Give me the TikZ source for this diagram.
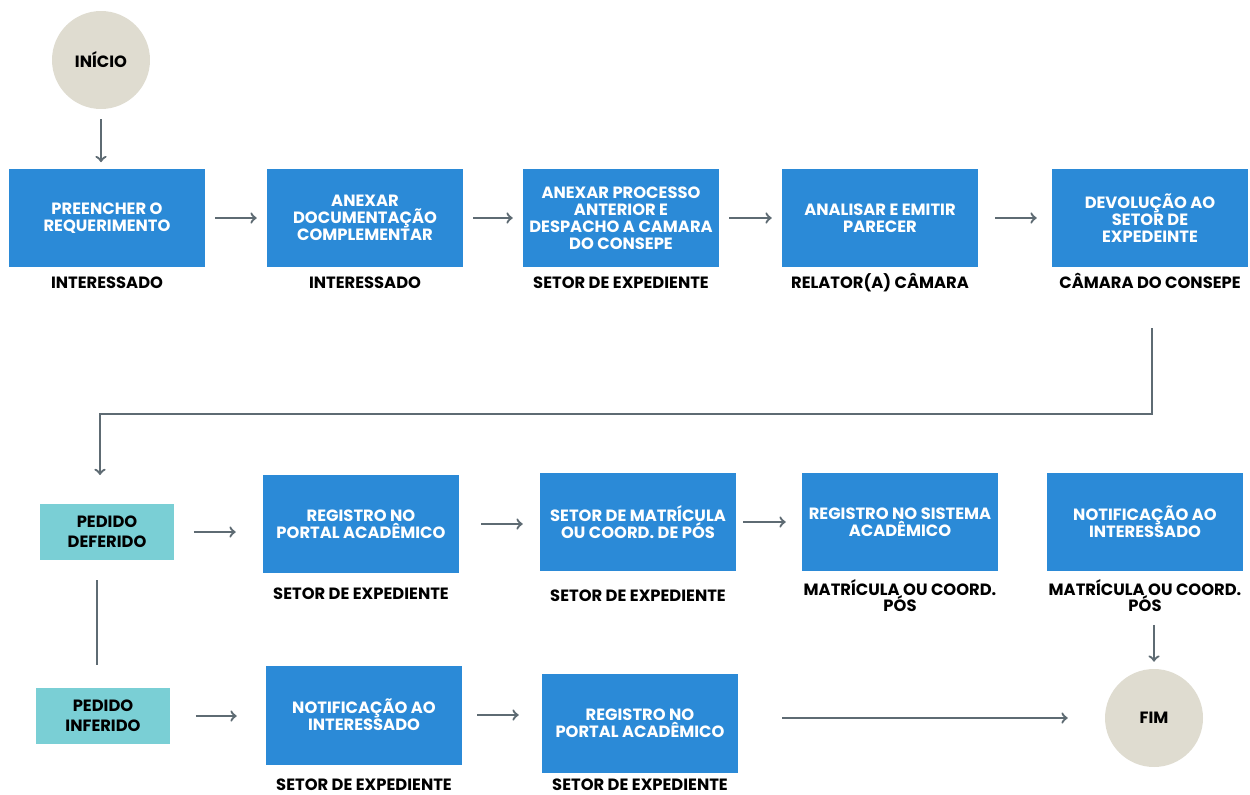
\documentclass[tikz,border=0pt]{standalone}
\usepackage{fontspec}
\setmainfont{Poppins}
\usetikzlibrary{positioning}

\definecolor{taskblue}{RGB}{43,138,215}
\definecolor{decisionteal}{RGB}{122,207,213}
\definecolor{endbeige}{RGB}{223,220,208}
\definecolor{flowgray}{RGB}{94,107,115}

\tikzset{
  task/.style={rectangle, fill=taskblue, minimum width=3.92cm, minimum height=1.98cm,
    text=white, align=center, inner sep=0pt, font=\bfseries\fontsize{9.3}{9.6}\selectfont},
  decision/.style={rectangle, fill=decisionteal, minimum width=2.7cm, minimum height=1.12cm,
    text=black, align=center, inner sep=0pt, font=\bfseries\fontsize{9.3}{11.2}\selectfont},
  terminal/.style={circle, fill=endbeige, minimum size=1.96cm, inner sep=0pt,
    font=\bfseries\fontsize{9.3}{9.3}\selectfont},
  role/.style={align=center, inner sep=0pt, font=\bfseries\fontsize{9.3}{9.3}\selectfont},
  roleline/.style={role, text height=6.5pt, text depth=0.5pt},
  flow/.style={draw=flowgray, line width=1.3pt, ->},
  link/.style={draw=flowgray, line width=1.3pt}
}

\begin{document}
\begin{tikzpicture}[x=0.02cm, y=-0.02cm]
        \useasboundingbox[fill=white] (0,0) rectangle (1250,794);

        \node[terminal] (inicio) at (101,60) {INÍCIO};

        \node[task] (b_1) at (107,218) {PREENCHER O\\REQUERIMENTO};
        \node[task] (b_2) at (365,218) {ANEXAR\\DOCUMENTAÇÃO\\COMPLEMENTAR};
        \node[task] (b_3) at (621,218) {ANEXAR PROCESSO\\ANTERIOR E\\DESPACHO A CAMARA\\DO CONSEPE};
        \node[task] (b_4) at (880,218) {ANALISAR E EMITIR\\PARECER};
        \node[task] (b_5) at (1150,218) {DEVOLUÇÃO AO\\SETOR DE\\EXPEDEINTE};

        \node[roleline] (r_1) [below=5pt of b_1] {INTERESSADO};
        \node[roleline] (r_2) [below=5pt of b_2] {INTERESSADO};
        \node[roleline] (r_3) [below=5pt of b_3] {SETOR DE EXPEDIENTE};
        \node[roleline] (r_4) [below=5pt of b_4] {RELATOR(A) CÂMARA};
        \node[roleline] (r_5) [below=5pt of b_5] {CÂMARA DO CONSEPE};

        \node[decision] (d_1) at (107,532) {PEDIDO\\DEFERIDO};
        \node[task] (c_1) at (361,524) {REGISTRO NO\\PORTAL ACADÊMICO};
        \node[task] (c_2) at (638,522) {SETOR DE MATRÍCULA\\OU COORD. DE PÓS};
        \node[task] (c_3) at (900,522) {REGISTRO NO SISTEMA\\ACADÊMICO};
        \node[task] (c_4) at (1145,522) {NOTIFICAÇÃO AO\\INTERESSADO};

        \node[roleline] (s_1) [below=8pt of c_1] {SETOR DE EXPEDIENTE};
        \node[roleline] (s_2) [below=10pt of c_2] {SETOR DE EXPEDIENTE};
        \node[role] (s_3) [below=4pt of c_3] {MATRÍCULA OU COORD.\\PÓS};
        \node[role] (s_4) [below=4pt of c_4] {MATRÍCULA OU COORD.\\PÓS};

        \node[decision] (d_2) at (103,716) {PEDIDO\\INFERIDO};
        \node[task] (e_1) at (364,715) {NOTIFICAÇÃO AO\\INTERESSADO};
        \node[task] (e_2) at (640,723) {REGISTRO NO\\PORTAL ACADÊMICO};
        \node[terminal] (fim) at (1154,718) {FIM};

        \node[roleline] (t_1) [below=8pt of e_1] {SETOR DE EXPEDIENTE};
        \node[roleline] (t_2) [below=3.5pt of e_2] {SETOR DE EXPEDIENTE};

        %inicio to first task
        \draw[flow, shorten <=0.2cm, shorten >=0.12cm] (inicio.south) -- (inicio.south |- b_1.north);

        %first row, left to right
        \draw[flow, shorten <=0.2cm, shorten >=0.2cm] (b_1) -- (b_2);
        \draw[flow, shorten <=0.2cm, shorten >=0.2cm] (b_2) -- (b_3);
        \draw[flow, shorten <=0.2cm, shorten >=0.2cm] (b_3) -- (b_4);
        \draw[flow, shorten <=0.34cm, shorten >=0.3cm] (b_4) -- (b_5);

        %back down to the decisions
        \coordinate (down_1) at (1152,328);
        \coordinate (down_2) at (100,475);
        \draw[flow] (down_1) -- ++(0,86) -| (down_2);

        %deferido branch
        \draw[flow, shorten <=0.38cm, shorten >=0.54cm] (d_1.east) -- (d_1.east -| c_1.west);
        \draw[flow, shorten <=0.44cm, shorten >=0.34cm] (c_1.east) -- (c_1.east -| c_2.west);
        \draw[flow, shorten <=0.14cm, shorten >=0.32cm] (c_2) -- (c_3);

        %deferido to inferido
        \draw[link, shorten <=0.4cm, shorten >=0.46cm] (d_1.south -| 97,0) -- (d_2.north -| 97,0);

        %inferido branch
        \draw[flow, shorten <=0.5cm, shorten >=0.58cm] (d_2.east) -- (d_2.east -| e_1.west);
        \draw[flow, shorten <=0.3cm, shorten >=0.46cm] (e_1.east) -- (e_1.east -| e_2.west);
        \draw[flow, shorten <=0.88cm, shorten >=0.74cm] (e_2.east |- fim.west) -- (fim.west);

        %notificacao to fim
        \draw[flow, shorten <=0.26cm, shorten >=0.14cm] (s_4.south -| fim.north) -- (fim.north);
    \end{tikzpicture}
\end{document}
